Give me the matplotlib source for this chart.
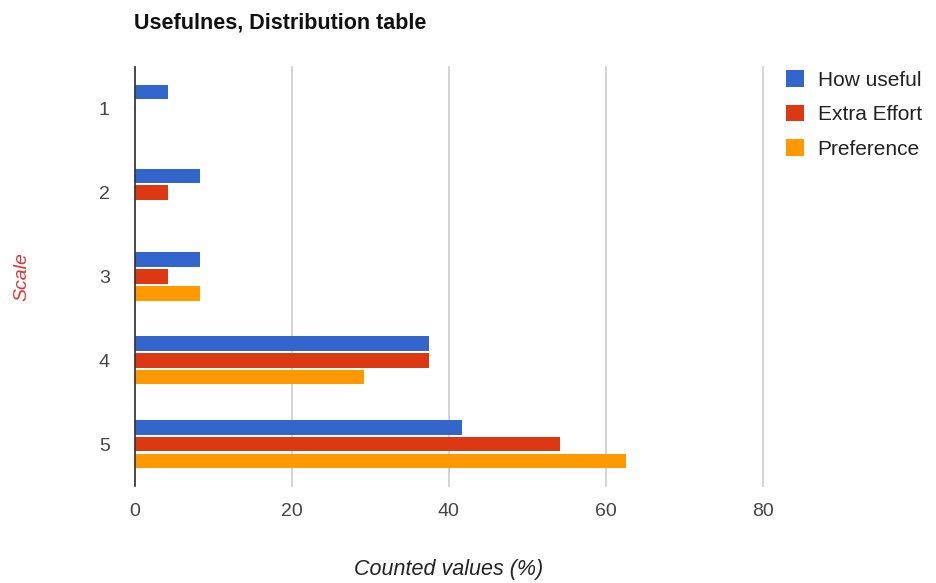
import matplotlib
matplotlib.use("Agg")
import matplotlib.pyplot as plt
import numpy as np

categories = ["1", "2", "3", "4", "5"]
how_useful = [4.17, 8.33, 8.33, 37.5, 41.67]
extra_effort = [0.0, 4.17, 4.17, 37.5, 54.17]
preference = [0.0, 0.0, 8.33, 29.17, 62.5]
series_names = ["How useful", "Extra Effort", "Preference"]
x_ticks = [0, 20, 40, 60, 80]

colors = ["#3366cc", "#dc3912", "#ff9900"]
plt.rcParams['font.family'] = ['Liberation Sans', 'DejaVu Sans']

W, H = 937, 583
fig = plt.figure(figsize=(W / 100, H / 100), dpi=100)
ax = fig.add_axes([134.8 / W, 1 - 486 / H, (763 - 134.8) / W, (486 - 67) / H])

pos = np.arange(1, len(categories) + 1)
offsets = [-0.2, 0.0, 0.2]
handles = []
for vals, off, c, name in zip([how_useful, extra_effort, preference], offsets, colors, series_names):
    b = ax.barh(pos + off, vals, height=0.175, color=c, label=name, zorder=3)
    handles.append(b)

ax.set_xlim(0, 80)
ax.set_ylim(5.5, 0.5)
ax.set_xticks(x_ticks)
ax.set_xticklabels([str(t) for t in x_ticks])
ax.set_yticks(pos)
ax.set_yticklabels(categories)
ax.tick_params(axis='both', length=0, labelsize=14, colors='#444444')
ax.tick_params(axis='x', pad=12)
ax.tick_params(axis='y', pad=18)
ax.grid(axis='x', color='#cccccc', linewidth=1.2, zorder=0)
for gl in ax.get_xgridlines():
    gl.set_clip_on(False)
ax.grid(axis='y', visible=False)
for s in ['top', 'right', 'bottom']:
    ax.spines[s].set_visible(False)
ax.spines['left'].set_color('#333333')
ax.spines['left'].set_linewidth(1.2)
ax.spines['left'].set_zorder(4)

ax.set_xlabel("Counted values (%)", fontsize=15.5, style='italic', color='#222222', labelpad=28)
fig.text(22 / W, 1 - 277 / H, "Scale", rotation=90, fontsize=14, style='italic',
         color='#dd3333', ha='center', va='center')

fig.text(134 / W, 1 - 29 / H, "Usefulnes, Distribution table", fontsize=15.5, fontweight='bold',
         color='#111111', ha='left', va='baseline')

leg = fig.legend(handles=handles, labels=series_names, loc='upper left',
                 bbox_to_anchor=(778 / W, 1 - 62 / H), frameon=False, fontsize=15,
                 handlelength=0.85, handleheight=0.85, handletextpad=0.65, labelspacing=0.72,
                 borderaxespad=0)
for t in leg.get_texts():
    t.set_color('#222222')

fig.savefig("out.png", dpi=100, facecolor='white')
